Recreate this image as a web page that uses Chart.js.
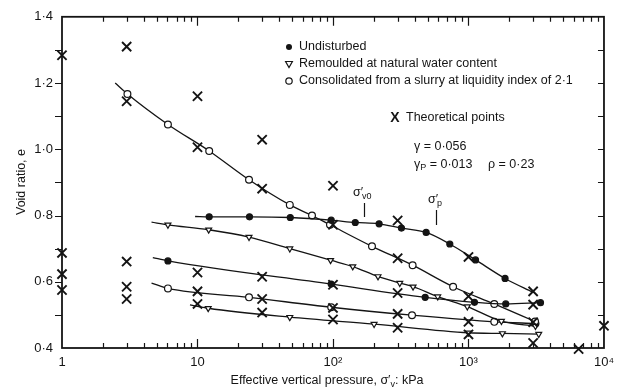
<!DOCTYPE html>
<html>
<head>
<meta charset="utf-8">
<script src="https://cdn.jsdelivr.net/npm/chart.js@4/dist/chart.umd.min.js"></script>
<style>
  html, body { margin: 0; padding: 0; background: #fff; }
  #wrap { width: 621px; height: 388px; position: relative; }
</style>
</head>
<body>
<div id="wrap"><canvas id="voidChart"></canvas></div>
<script>
// --- axis ticks ---
const xTickValues = [1, 10, 100, 1000, 10000];
const xTickLabels = ['1', '10', '10\u00B2', '10\u00B3', '10\u2074'];
const yTickValues = [0.4, 0.6, 0.8, 1.0, 1.2, 1.4];
const yTickLabels = ['0\u00B74', '0\u00B76', '0\u00B78', '1\u00B70', '1\u00B72', '1\u00B74'];

// --- curves (first value of each list is where the drawn curve starts, no symbol) ---
const undisturbedTopP = [9.6, 12.2, 24.2, 48.4, 97, 146, 219, 320, 487, 728, 1127, 1862, 3000];
const undisturbedTopE = [0.797, 0.796, 0.796, 0.794, 0.786, 0.779, 0.775, 0.762, 0.749, 0.714, 0.666, 0.61, 0.568];

const undisturbedLowP = [4.68, 6.05, 97, 479, 1107, 1884, 3400];
const undisturbedLowE = [0.673, 0.663, 0.593, 0.553, 0.538, 0.533, 0.537];

const remouldedTopP = [4.58, 6.05, 12.1, 24, 48, 96, 140, 215, 311, 390, 593, 980, 1750, 3120];
const remouldedTopE = [0.78, 0.772, 0.757, 0.735, 0.70, 0.665, 0.646, 0.616, 0.596, 0.585, 0.555, 0.525, 0.481, 0.466];

const remouldedLowP = [8.8, 12, 48, 201, 1000, 1780, 3300];
const remouldedLowE = [0.53, 0.52, 0.493, 0.472, 0.446, 0.444, 0.442];

const slurryTopP = [2.47, 3.04, 6.05, 12.2, 24, 48, 70, 95, 194, 387, 770, 1550, 3100];
const slurryTopE = [1.2, 1.167, 1.075, 0.995, 0.908, 0.832, 0.80, 0.772, 0.707, 0.65, 0.585, 0.533, 0.48];

const slurryLowP = [4.58, 6.05, 24, 97, 383, 1550, 3120];
const slurryLowE = [0.596, 0.58, 0.553, 0.523, 0.499, 0.479, 0.474];

// --- theoretical points ---
const theoryP = [1, 1, 1, 1,
                 3, 3, 3, 3, 3,
                 10, 10, 10, 10, 10,
                 30, 30, 30, 30, 30,
                 100, 100, 100, 100, 100,
                 300, 300, 300, 300, 300,
                 1000, 1000, 1000, 1000,
                 3000, 3000, 3000, 3000,
                 6500, 10000];
const theoryE = [1.284, 0.687, 0.623, 0.575,
                 1.31, 1.145, 0.661, 0.585, 0.548,
                 1.16, 1.006, 0.628, 0.571, 0.533,
                 1.029, 0.881, 0.615, 0.548, 0.507,
                 0.89, 0.772, 0.591, 0.521, 0.486,
                 0.785, 0.671, 0.566, 0.503, 0.461,
                 0.675, 0.556, 0.479, 0.441,
                 0.571, 0.531, 0.478, 0.415,
                 0.397, 0.467];

const INK = '#141414';
const FONT = '"Liberation Sans", Arial, sans-serif';

function pairs(px, ey) {
    return px.map((p, i) => ({ x: p, y: ey[i] }));
}

// curve with symbols, bare = indices that carry no symbol
function curve(px, ey, style, bare) {
    const sym = {
        solid:    { pointStyle: 'circle',   radius: 3,   fill: INK,    rot: 0 },
        open:     { pointStyle: 'circle',   radius: 3.4, fill: '#fff', rot: 0 },
        triangle: { pointStyle: 'triangle', radius: 3.4, fill: '#fff', rot: 180 }
    }[style];
    return {
        type: 'line',
        data: pairs(px, ey),
        borderColor: INK,
        borderWidth: 1.3,
        tension: 0.35,
        cubicInterpolationMode: 'monotone',
        pointStyle: sym.pointStyle,
        pointRotation: sym.rot,
        pointBackgroundColor: sym.fill,
        pointBorderColor: INK,
        pointBorderWidth: 1.2,
        pointRadius: ctx => bare.includes(ctx.dataIndex) ? 0 : sym.radius,
        fill: false,
        clip: false
    };
}

// frame, inward / outward tick marks and all the free text
const decorPlugin = {
    id: 'decor',
    afterDraw(chart) {
        const { ctx, chartArea: a, scales: { x, y } } = chart;
        ctx.save();
        ctx.strokeStyle = INK;
        ctx.fillStyle = INK;

        // frame
        ctx.lineWidth = 1.8;
        ctx.strokeRect(a.left, a.top, a.right - a.left, a.bottom - a.top);

        // x ticks
        ctx.lineWidth = 1.2;
        ctx.beginPath();
        [1, 10, 100, 1000].forEach(d => {
            for (let k = 2; k <= 10; k++) {
                const px = Math.round(x.getPixelForValue(d * k)) + 0.5;
                const len = k === 10 ? 9 : 5;
                if (k === 10 && d === 1000) continue;
                ctx.moveTo(px, a.bottom); ctx.lineTo(px, a.bottom - len);
                ctx.moveTo(px, a.top); ctx.lineTo(px, a.top + len);
            }
        });
        // y ticks
        for (let i = 1; i < 10; i++) {
            const py = Math.round(y.getPixelForValue(0.4 + i * 0.1)) + 0.5;
            ctx.moveTo(a.left - 7, py); ctx.lineTo(a.left, py);
            ctx.moveTo(a.right - 6, py); ctx.lineTo(a.right, py);
        }
        ctx.stroke();

        const text = (s, tx, ty, size, align) => {
            ctx.font = size + 'px ' + FONT;
            ctx.textAlign = align || 'left';
            ctx.textBaseline = 'middle';
            ctx.fillText(s, tx, ty);
            return ctx.measureText(s).width;
        };

        // legend
        const lx = 289;
        ctx.lineWidth = 1.2;
        ctx.beginPath(); ctx.arc(lx, 47, 3, 0, Math.PI * 2); ctx.fill();
        ctx.beginPath();
        ctx.moveTo(lx - 3.4, 61.5); ctx.lineTo(lx + 3.4, 61.5); ctx.lineTo(lx, 67.5); ctx.closePath();
        ctx.stroke();
        ctx.beginPath(); ctx.arc(lx, 81, 3.2, 0, Math.PI * 2); ctx.stroke();
        text('Undisturbed', 299, 47, 12.5);
        text('Remoulded at natural water content', 299, 64, 12.5);
        text('Consolidated from a slurry at liquidity index of 2\u00B71', 299, 81, 12.5);

        ctx.font = 'bold 14px ' + FONT;
        ctx.textAlign = 'center'; ctx.textBaseline = 'middle';
        ctx.fillText('X', 395, 118);
        text('Theoretical points', 406, 118, 12.5);

        text('\u03B3 = 0\u00B7056', 414, 147, 12.5);
        let w = text('\u03B3', 414, 165, 12.5);
        w += text('P', 414 + w, 168, 9);
        text(' = 0\u00B7013', 414 + w, 165, 12.5);
        text('\u03C1 = 0\u00B723', 488, 165, 12.5);

        // sigma markers
        w = text('\u03C3\u2032', 353, 193, 12.5);
        text('v0', 353 + w - 1, 197, 9);
        w = text('\u03C3\u2032', 428, 200, 12.5);
        text('p', 428 + w - 1, 204, 9);
        ctx.lineWidth = 1.2;
        ctx.beginPath();
        ctx.moveTo(364.5, 203); ctx.lineTo(364.5, 217);
        ctx.moveTo(436.5, 210); ctx.lineTo(436.5, 225);
        ctx.stroke();

        // axis titles
        ctx.font = '12.5px ' + FONT;
        const t1 = 'Effective vertical pressure, \u03C3\u2032';
        const t2 = ': kPa';
        const w1 = ctx.measureText(t1).width;
        const w3 = ctx.measureText(t2).width;
        ctx.font = '9px ' + FONT;
        const w2 = ctx.measureText('v').width;
        let sx = 327 - (w1 + w2 + w3) / 2;
        text(t1, sx, 381, 12.5);
        text('v', sx + w1, 385, 9);
        text(t2, sx + w1 + w2, 381, 12.5);

        ctx.translate(22, 182);
        ctx.rotate(-Math.PI / 2);
        text('Void ratio, e', 0, 0, 12.5, 'center');
        ctx.restore();
    }
};

document.addEventListener('DOMContentLoaded', function() {
    const canvas = document.getElementById('voidChart');
    canvas.width = 621;
    canvas.height = 388;

    new Chart(canvas.getContext('2d'), {
        data: {
            datasets: [
                {
                    type: 'scatter',
                    data: pairs(theoryP, theoryE),
                    pointStyle: 'crossRot',
                    pointRadius: 6.5,
                    pointBorderWidth: 1.9,
                    pointBorderColor: INK,
                    showLine: false,
                    clip: false
                },
                curve(undisturbedTopP, undisturbedTopE, 'solid', [0, undisturbedTopP.length - 1]),
                curve(undisturbedLowP, undisturbedLowE, 'solid', [0]),
                curve(remouldedTopP, remouldedTopE, 'triangle', [0]),
                curve(remouldedLowP, remouldedLowE, 'triangle', [0]),
                curve(slurryTopP, slurryTopE, 'open', [0]),
                curve(slurryLowP, slurryLowE, 'open', [0])
            ]
        },
        options: {
            responsive: false,
            animation: false,
            layout: { padding: { top: 13, right: 9, left: 0, bottom: 0 } },
            plugins: { legend: { display: false }, tooltip: { enabled: false } },
            scales: {
                x: {
                    type: 'logarithmic',
                    min: 1,
                    max: 10000,
                    grid: { display: false, drawTicks: false },
                    border: { display: false },
                    afterBuildTicks: s => { s.ticks = xTickValues.map(v => ({ value: v })); },
                    afterFit: s => { s.height = 40; },
                    ticks: {
                        autoSkip: false,
                        maxRotation: 0,
                        padding: 7,
                        color: INK,
                        font: { family: FONT, size: 13 },
                        callback: (v, i) => xTickLabels[i]
                    }
                },
                y: {
                    type: 'linear',
                    min: 0.4,
                    max: 1.4,
                    grid: { display: false, drawTicks: false },
                    border: { display: false },
                    afterBuildTicks: s => { s.ticks = yTickValues.map(v => ({ value: v })); },
                    afterFit: s => { s.width = 62; },
                    ticks: {
                        padding: 9,
                        color: INK,
                        font: { family: FONT, size: 13 },
                        callback: (v, i) => yTickLabels[i]
                    }
                }
            }
        },
        plugins: [decorPlugin]
    });
});
</script>
</body>
</html>
